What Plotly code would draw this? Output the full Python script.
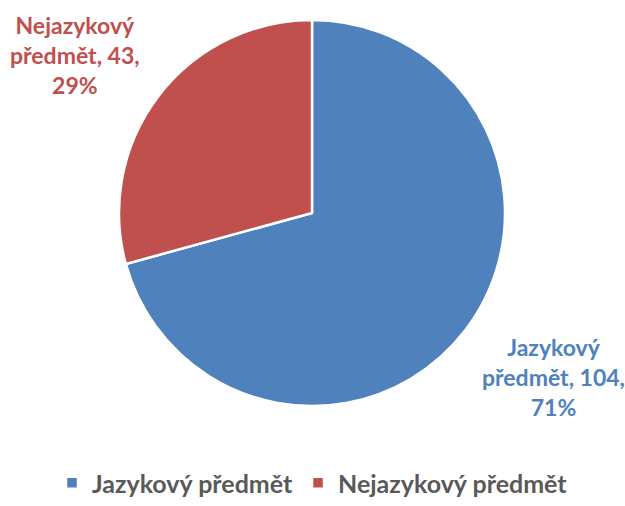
import plotly.graph_objects as go

categories = ["Jazykový předmět", "Nejazykový předmět"]
values = [104, 43]
colors = ["#4F81BD", "#C0504D"]

total = sum(values)
pcts = [round(v / total * 100) for v in values]

W, H = 625, 506
cx, cy, R = 312, 213, 193

fig = go.Figure(go.Pie(
    labels=categories,
    values=values,
    sort=False,
    direction="clockwise",
    rotation=0,
    marker=dict(colors=colors, line=dict(color="white", width=2.5)),
    textinfo="none",
    hoverinfo="label+value+percent",
    domain=dict(x=[(cx - R) / W, (cx + R) / W], y=[1 - (cy + R) / H, 1 - (cy - R) / H]),
))

# label positions (pixels) for each slice's data label
label_pos = [(553, 377), (75, 55)]
font_family = "Lato, 'Open Sans', sans-serif"
for cat, v, p, col, (lx, ly) in zip(categories, values, pcts, colors, label_pos):
    name_parts = cat.split(" ")
    text = f"{name_parts[0]}<br>{name_parts[1]}, {v},<br>{p}%"
    fig.add_annotation(
        x=lx / W, y=1 - ly / H, xref="paper", yref="paper",
        text=f"<b>{text}</b>", showarrow=False,
        font=dict(family=font_family, size=23, color=col),
        align="center", xanchor="center", yanchor="middle",
    )

fig.update_layout(
    width=W, height=H,
    margin=dict(l=0, r=0, t=0, b=0, autoexpand=False),
    paper_bgcolor="white", plot_bgcolor="white",
    showlegend=True,
    legend=dict(
        orientation="h", x=0.5, xanchor="center", y=0, yanchor="bottom",
        font=dict(family=font_family, size=25, color="#595959", weight="bold"),
        itemwidth=30, traceorder="normal",
    ),
)

fig.write_html("out.html", config={"displayModeBar": False})

# remove the default page margin so the figure sits at the window's top-left corner
with open("out.html", encoding="utf-8") as f:
    html = f.read()
html = html.replace("<head>", "<head><style>html,body{margin:0;padding:0;overflow:hidden;}</style>", 1)
with open("out.html", "w", encoding="utf-8") as f:
    f.write(html)
